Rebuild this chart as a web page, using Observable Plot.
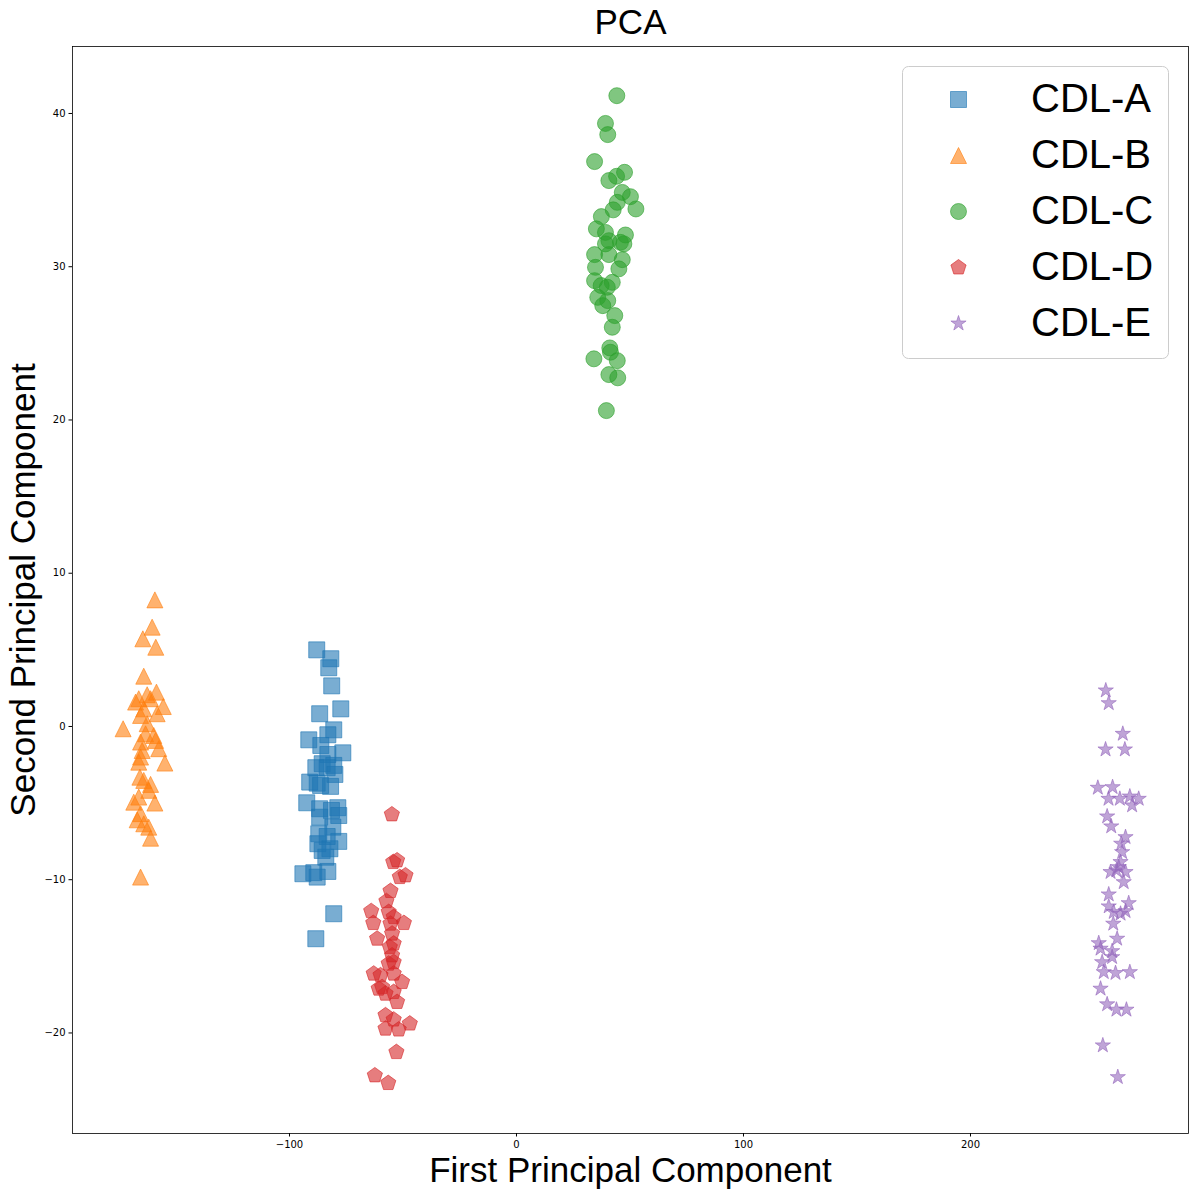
<!DOCTYPE html>
<html>
<head>
<meta charset="utf-8">
<script src="https://cdn.jsdelivr.net/npm/d3@7"></script>
<script src="https://cdn.jsdelivr.net/npm/@observablehq/plot@0.6"></script>
<style>
  body { margin: 0; background: white; }
  #wrap { position: relative; width: 1195px; height: 1194px; }
  #legend { position: absolute; left: 902px; top: 66px; }
</style>
</head>
<body>
<div id="wrap"></div>
<script>
const categories = ["CDL-A", "CDL-B", "CDL-C", "CDL-D", "CDL-E"];
const colors = ["#1f77b4", "#ff7f0e", "#2ca02c", "#d62728", "#9467bd"];
const xTicks = [-100, 0, 100, 200];
const yTicks = [-20, -10, 0, 10, 20, 30, 40];

const aX = [-88.0,-81.8,-82.7,-81.4,-77.4,-86.7,-80.5,-83.1,-91.5,-86.2,-76.5,-83.1,-85.6,-88.4,-80.5,-83.4,-80.0,-91.1,-87.8,-81.9,-86.3,-92.4,-86.7,-78.7,-81.5,-78.3,-86.7,-80.9,-87.1,-78.3,-83.4,-87.5,-82.2,-85.6,-84.0,-94.1,-89.3,-87.8,-83.1,-80.5,-88.4];
const aY = [5.00,4.42,3.83,2.65,1.15,0.83,-0.22,-0.54,-0.87,-1.24,-1.72,-1.83,-2.43,-2.69,-2.54,-2.69,-3.13,-3.63,-3.70,-3.91,-3.85,-4.98,-5.37,-5.30,-5.48,-5.81,-5.92,-6.57,-7.00,-7.50,-7.18,-7.65,-7.98,-8.09,-8.53,-9.61,-9.54,-9.83,-9.46,-12.22,-13.85];

const bX = [-159.3,-160.5,-164.6,-158.9,-164.2,-166.4,-162.7,-161.2,-158.6,-167.8,-155.6,-164.2,-158.3,-165.6,-173.3,-162.7,-163.4,-159.8,-165.6,-159.0,-164.9,-157.6,-154.9,-165.6,-166.4,-165.9,-164.2,-161.2,-162.0,-159.3,-168.6,-166.4,-165.6,-167.1,-164.2,-162.0,-161.2,-165.6];
const bY = [8.26,6.48,5.72,5.17,3.28,1.81,2.07,1.81,2.24,1.59,1.30,1.15,0.83,0.72,-0.15,0.18,-0.48,-0.59,-1.02,-0.91,-1.57,-1.45,-2.39,-2.00,-2.33,-3.31,-3.52,-3.78,-4.17,-5.00,-4.94,-4.61,-5.69,-6.09,-6.35,-6.57,-7.29,-9.83];

const cX = [44.2,39.2,40.2,34.4,40.7,44.1,47.6,46.6,50.2,44.4,42.6,52.6,37.4,35.2,39.2,48.0,40.7,45.8,39.2,47.3,34.4,40.7,46.6,34.8,45.1,34.4,42.2,37.3,40.0,35.8,40.2,38.0,43.3,42.2,41.1,41.4,44.4,34.1,40.7,44.6,39.6];
const cY = [41.16,39.35,38.62,36.86,35.62,35.90,36.16,34.85,34.57,34.20,33.71,33.77,33.27,32.47,32.24,32.07,31.70,31.59,31.49,31.49,30.79,30.79,30.46,29.96,29.86,29.09,28.98,28.77,28.66,28.00,27.79,27.46,26.81,26.05,24.70,24.42,23.87,23.99,22.96,22.75,20.61];

const dX = [-54.9,-54.3,-52.6,-48.9,-51.4,-55.5,-57.3,-64.0,-56.3,-54.1,-63.1,-49.6,-55.5,-54.8,-61.4,-54.1,-55.8,-54.8,-56.3,-54.1,-62.9,-59.9,-54.1,-50.4,-59.2,-60.7,-54.1,-57.7,-52.6,-57.7,-54.1,-47.0,-57.7,-51.9,-52.9,-62.4,-56.5];
const dY = [-5.74,-8.85,-8.74,-9.72,-9.83,-10.74,-11.40,-12.05,-12.11,-12.44,-12.83,-12.83,-12.87,-13.52,-13.85,-14.17,-14.40,-14.94,-15.48,-15.38,-16.13,-16.24,-16.13,-16.68,-17.01,-17.11,-17.33,-17.44,-17.98,-18.85,-19.13,-19.39,-19.72,-19.78,-21.25,-22.77,-23.27];

const eX = [259.6,260.9,267.1,259.5,268.0,256.1,262.6,260.8,265.8,270.2,274.1,271.2,260.2,262.0,268.3,266.4,266.8,266.1,265.3,261.7,264.3,268.3,267.5,260.9,269.7,260.9,263.1,266.1,268.3,262.9,264.6,256.5,257.3,262.4,262.4,258.0,258.7,263.9,270.2,257.3,260.2,264.3,268.7,258.3,264.9];
const eY = [2.35,1.52,-0.48,-1.50,-1.50,-4.00,-3.96,-4.72,-4.72,-4.57,-4.72,-5.15,-5.87,-6.52,-7.22,-7.65,-8.20,-8.85,-9.18,-9.50,-9.39,-9.50,-10.16,-10.96,-11.53,-11.74,-12.11,-12.22,-12.05,-12.87,-13.85,-14.14,-14.50,-14.66,-15.05,-15.38,-16.03,-16.09,-16.03,-17.11,-18.13,-18.48,-18.48,-20.81,-22.88];

// Marker shapes (matplotlib-like): s, ^, o, p, *
const rad = size => Math.sqrt(size / Math.PI);
const symSquare = {draw(c, s) {const r = rad(s); c.moveTo(-r, -r); c.lineTo(r, -r); c.lineTo(r, r); c.lineTo(-r, r); c.closePath();}};
const symTriangle = {draw(c, s) {const r = rad(s); c.moveTo(0, -r); c.lineTo(r, r); c.lineTo(-r, r); c.closePath();}};
const symCircle = {draw(c, s) {const r = rad(s); c.moveTo(r, 0); c.arc(0, 0, r, 0, 2 * Math.PI); c.closePath();}};
const symPentagon = {draw(c, s) {const r = rad(s); for (let k = 0; k < 5; k++) {const a = -Math.PI / 2 + k * 2 * Math.PI / 5; const px = r * Math.cos(a), py = r * Math.sin(a); k ? c.lineTo(px, py) : c.moveTo(px, py);} c.closePath();}};
const symStar = {draw(c, s) {const r = rad(s), ri = r * 0.381966; for (let k = 0; k < 10; k++) {const a = -Math.PI / 2 + k * Math.PI / 5; const rr = k % 2 ? ri : r; const px = rr * Math.cos(a), py = rr * Math.sin(a); k ? c.lineTo(px, py) : c.moveTo(px, py);} c.closePath();}};
const symbols = [symSquare, symTriangle, symCircle, symPentagon, symStar];

const series = [[aX, aY], [bX, bY], [cX, cY], [dX, dY], [eX, eY]];
const tables = series.map(([xs, ys]) => xs.map((x, i) => ({x, y: ys[i]})));

const R = 8;
const fmt = d3.format("d");
const labelFont = "Liberation Sans, Arial, sans-serif";

const chart = Plot.plot({
  width: 1195,
  height: 1194,
  marginLeft: 72,
  marginRight: 7,
  marginTop: 46,
  marginBottom: 61,
  style: {fontFamily: "DejaVu Sans", fontSize: "10px", color: "black", background: "white", overflow: "visible"},
  x: {domain: [-195.59, 296.04]},
  y: {domain: [-26.56, 44.37]},
  marks: [
    ...tables.map((t, i) => Plot.dot(t, {
      x: "x", y: "y", r: R, symbol: symbols[i],
      fill: colors[i], fillOpacity: 0.6,
      stroke: colors[i], strokeOpacity: 0.6, strokeWidth: 1
    })),
    Plot.frame({stroke: "black", strokeWidth: 0.8}),
    Plot.axisX({ticks: xTicks, tickSize: 3.5, tickPadding: 3.5, tickFormat: fmt, label: null, anchor: "bottom"}),
    Plot.axisY({ticks: yTicks, tickSize: 3.5, tickPadding: 3.5, tickFormat: fmt, label: null, anchor: "left"}),
    Plot.text(["PCA"], {frameAnchor: "top", lineAnchor: "bottom", dy: -13, fontSize: 35, fontFamily: labelFont, fill: "black"}),
    Plot.text(["First Principal Component"], {frameAnchor: "bottom", lineAnchor: "bottom", dy: 48, fontSize: 35, fontFamily: labelFont, fill: "black"}),
    Plot.text(["Second Principal Component"], {frameAnchor: "left", textAnchor: "middle", lineAnchor: "bottom", rotate: -90, dx: -38, dy: 0, fontSize: 35, fontFamily: labelFont, fill: "black"})
  ]
});
document.getElementById("wrap").appendChild(chart);

// Legend (upper right, matplotlib style)
const lw = 266, lh = 292;
const leg = d3.select("#wrap").append("svg")
  .attr("id", "legend").attr("width", lw + 2).attr("height", lh + 2);
leg.append("rect").attr("x", 0.5).attr("y", 0.5).attr("width", lw).attr("height", lh)
  .attr("rx", 6).attr("ry", 6)
  .attr("fill", "white").attr("fill-opacity", 0.8).attr("stroke", "#cccccc").attr("stroke-width", 1);
categories.forEach((name, i) => {
  const cy = 33.5 + i * 56;
  leg.append("path")
    .attr("transform", `translate(56.5,${cy})`)
    .attr("d", d3.symbol(symbols[i], Math.PI * R * R)())
    .attr("fill", colors[i]).attr("fill-opacity", 0.6)
    .attr("stroke", colors[i]).attr("stroke-opacity", 0.6).attr("stroke-width", 1);
  leg.append("text")
    .attr("x", 129).attr("y", cy + 12.5)
    .attr("font-family", labelFont).attr("font-size", 40)
    .attr("fill", "black")
    .text(name);
});
</script>
</body>
</html>
